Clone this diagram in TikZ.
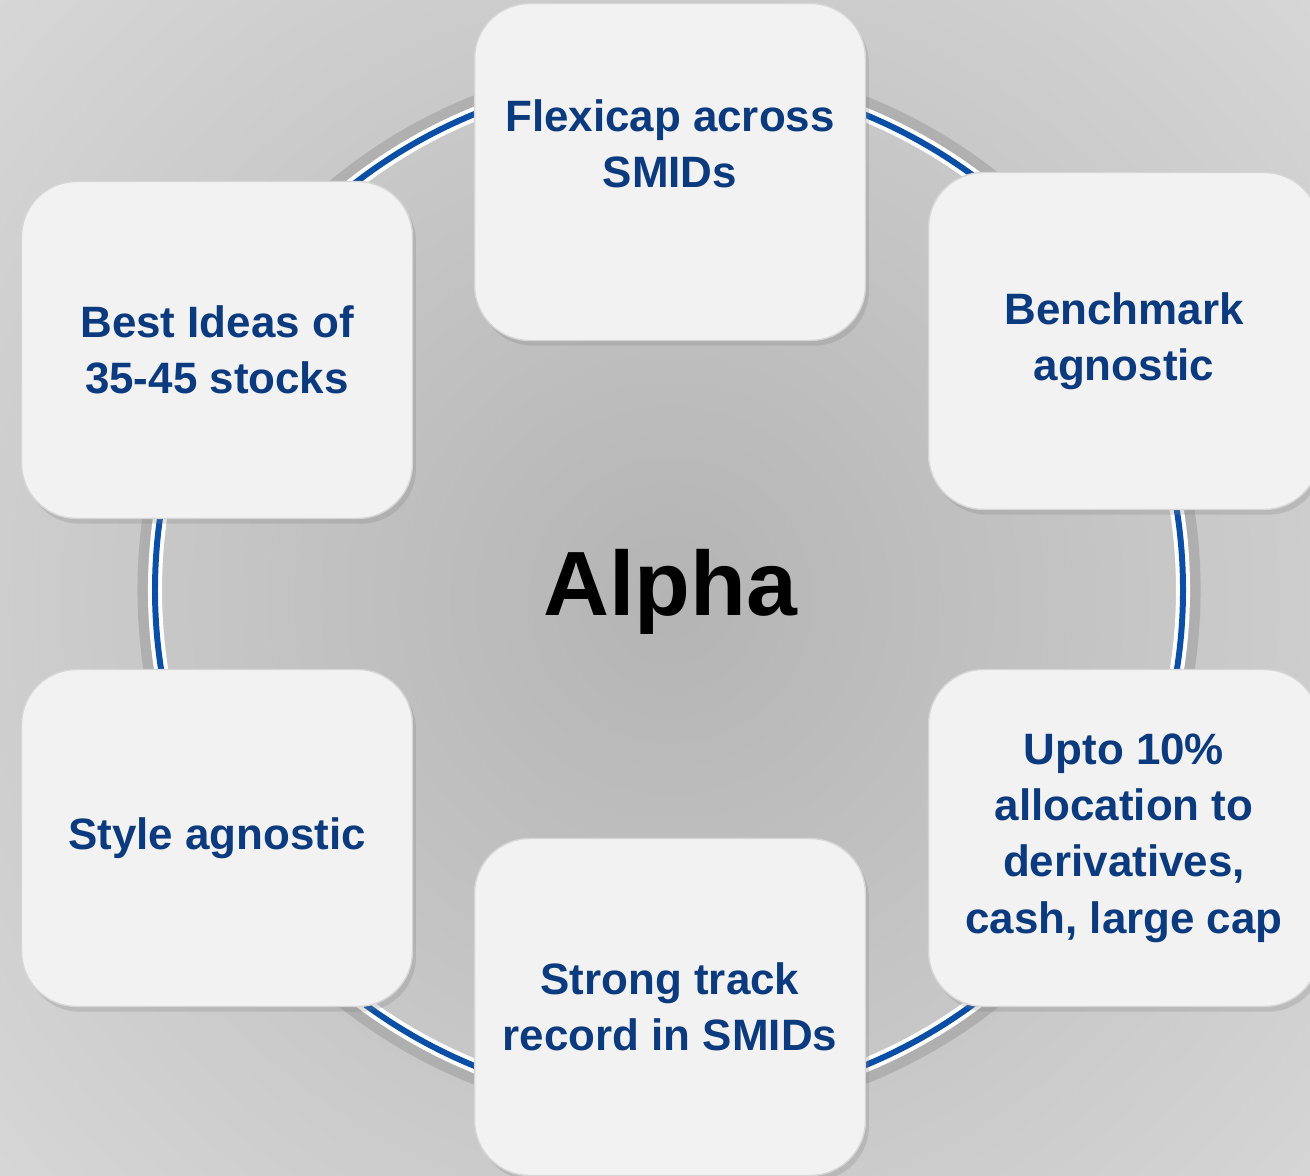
\documentclass[tikz,border=0pt]{standalone}
\usepackage{fontspec}
\setmainfont{Liberation Sans}
\usetikzlibrary{shadows}
\definecolor{navy}{HTML}{0B3B7E}
\definecolor{ringblue}{HTML}{0A4EA6}
\definecolor{boxfill}{HTML}{F2F2F2}
\definecolor{boxline}{HTML}{D6D6D6}
\definecolor{bgcenter}{HTML}{B4B4B4}
\definecolor{bgedge}{HTML}{EAEAEA}
\tikzset{
  card/.style={draw=boxline, line width=0.8pt, fill=boxfill, rounded corners=1.1cm,
    minimum width=7.82cm, minimum height=6.74cm, align=center, text=navy,
    font=\fontsize{25}{32}\selectfont\bfseries,
    drop shadow={shadow xshift=2pt, shadow yshift=-3pt, opacity=0.25}},
}
\begin{document}
\begin{tikzpicture}[x=0.02cm,y=-0.02cm]
\useasboundingbox (0,0) rectangle (1310,1175);
\clip (0,0) rectangle (1310,1175);
\shade[inner color=bgcenter, outer color=bgedge] (-730,-800) rectangle (2070,2000);
\coordinate (hub) at (669,590);
\draw[black, opacity=0.12, line width=12pt] (hub) circle[radius=521];
\draw[white, line width=8pt] (hub) circle[radius=514];
\draw[ringblue, line width=3.4pt] (hub) circle[radius=514];
\node[card] (flexicap) at (670,172) {Flexicap across\\SMIDs\\~};
\node[card] (benchmark) at (1124,341) {Benchmark\\agnostic};
\node[card] (bestideas) at (217,350) {Best Ideas of\\35-45 stocks};
\node[card] (style) at (217,838) {Style agnostic};
\node[card] (upto) at (1124,838) {Upto 10\%\\allocation to\\derivatives,\\cash, large cap};
\node[card] (track) at (670,1007) {Strong track\\record in SMIDs};
\node[font=\fontsize{52}{62}\selectfont\bfseries] (alpha) at (670,592) {Alpha};
\end{tikzpicture}
\end{document}
